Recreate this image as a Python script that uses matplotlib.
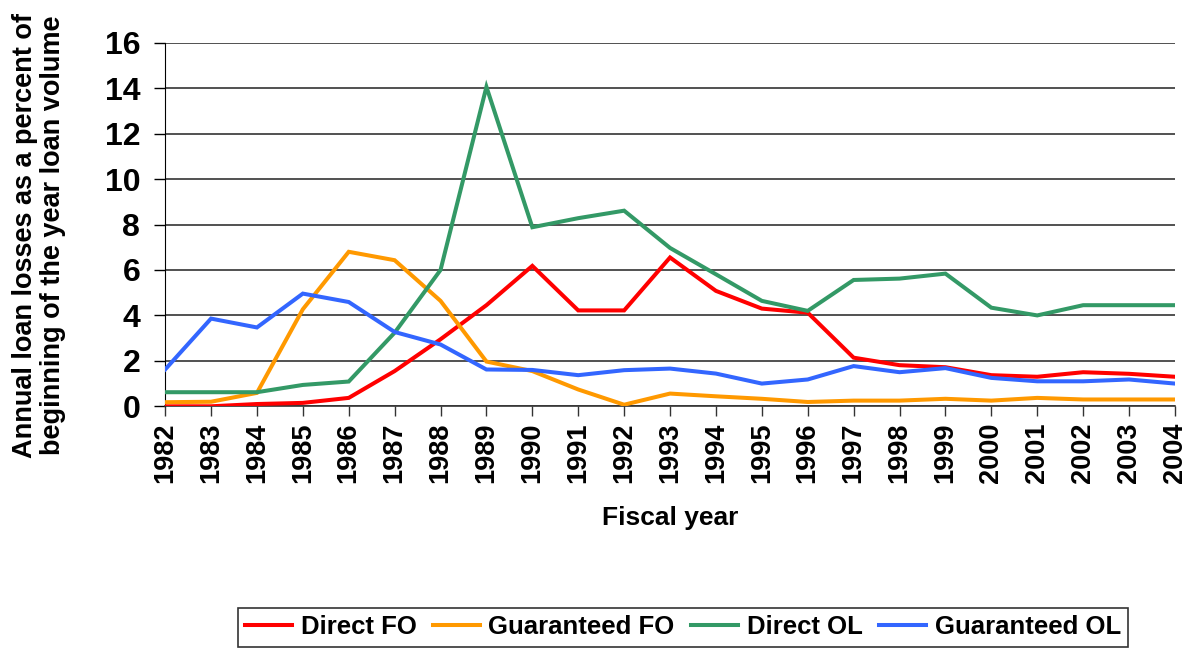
import matplotlib
matplotlib.use("Agg")
import matplotlib.pyplot as plt

years = list(range(1982, 2005))

direct_fo = [0.0, 0.0, 0.1, 0.15, 0.37, 1.55, 2.95, 4.45, 6.18, 4.22, 4.22, 6.55,
             5.08, 4.3, 4.12, 2.14, 1.81, 1.72, 1.37, 1.3, 1.5, 1.43, 1.3]
guaranteed_fo = [0.18, 0.2, 0.59, 4.27, 6.8, 6.43, 4.64, 1.97, 1.55, 0.74, 0.07, 0.56,
                 0.44, 0.33, 0.19, 0.25, 0.25, 0.33, 0.25, 0.37, 0.3, 0.3, 0.3]
direct_ol = [0.62, 0.62, 0.62, 0.94, 1.09, 3.24, 6.0, 14.06, 7.88, 8.28, 8.61, 6.97,
             5.81, 4.64, 4.2, 5.56, 5.62, 5.84, 4.34, 4.0, 4.45, 4.45, 4.45]
guaranteed_ol = [1.62, 3.86, 3.47, 4.96, 4.59, 3.27, 2.72, 1.62, 1.6, 1.37, 1.59, 1.66,
                 1.44, 1.0, 1.18, 1.77, 1.5, 1.68, 1.25, 1.1, 1.1, 1.18, 1.0]

series = [
    ("Direct FO", direct_fo, "#FF0000"),
    ("Guaranteed FO", guaranteed_fo, "#FF9900"),
    ("Direct OL", direct_ol, "#339966"),
    ("Guaranteed OL", guaranteed_ol, "#3366FF"),
]

plt.rcParams["font.family"] = ["Liberation Sans", "DejaVu Sans"]
plt.rcParams["font.weight"] = "bold"

fig = plt.figure(figsize=(11.88, 6.48), dpi=100)
ax = fig.add_axes([0.139, 0.373, 0.850, 0.561])

for label, vals, color in series:
    ax.plot(years, vals, color=color, linewidth=2.9, label=label,
            solid_joinstyle="miter", zorder=3)

ax.set_xlim(1982, 2004)
ax.set_ylim(0, 16)
ax.set_yticks(range(0, 17, 2))
ax.set_xticks(years)
ax.set_xticklabels([str(y) for y in years], rotation=90, fontsize=19.5, fontweight="bold")
ax.tick_params(axis="y", labelsize=23, length=8, width=1, color="black", pad=10)
ax.tick_params(axis="x", length=7, width=1, color="#333333", pad=5)
for t in ax.get_yticklabels():
    t.set_fontweight("bold")

ax.grid(axis="y", color="#222222", linewidth=1.1, zorder=1)
ax.set_axisbelow(True)
for side in ("top", "right"):
    ax.spines[side].set_visible(False)
ax.spines["left"].set_color("black")
ax.spines["bottom"].set_color("#333333")
ax.spines["bottom"].set_linewidth(1.2)

ax.set_xlabel("Fiscal year", fontsize=19, fontweight="bold", labelpad=16)
fig.text(0.033, 0.637, "Annual loan losses as a percent of\nbeginning of the year loan volume",
         rotation=90, ha="center", va="center", fontsize=19.5, fontweight="bold",
         linespacing=1.12)

leg = fig.legend(loc="center", bbox_to_anchor=(0.575, 0.032), ncol=4, frameon=True,
                 fancybox=False, edgecolor="black", handlelength=1.8, handletextpad=0.35,
                 columnspacing=0.65, borderpad=0.3,
                 prop={"family": ["Liberation Sans Narrow", "Liberation Sans"],
                       "size": 18.5, "weight": "bold"})
leg.get_frame().set_linewidth(1.2)

fig.savefig("out.png", dpi=100, facecolor="white")
